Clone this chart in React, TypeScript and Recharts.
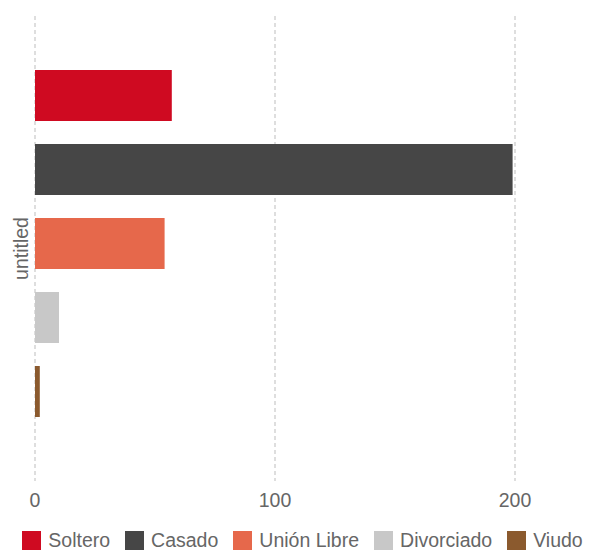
import React from 'react';
import { BarChart, Bar, XAxis, YAxis, CartesianGrid, Legend } from 'recharts';

const categories = ['untitled'];
const seriesNames = ['Soltero', 'Casado', 'Unión Libre', 'Divorciado', 'Viudo'];
const seriesValues = [57, 199, 54, 10, 2];
const seriesColors = ['#cf0a21', '#464646', '#e6684b', '#c8c8c8', '#8b5a2e'];
const xTicks = [0, 100, 200];

const data = categories.map((c) => {
  const row: Record<string, string | number> = { name: c };
  seriesNames.forEach((s, i) => {
    row[s] = seriesValues[i];
  });
  return row;
});

const FONT = '"Liberation Sans", Arial, sans-serif';

const LegendContent = () => (
  <div
    style={{
      display: 'flex',
      justifyContent: 'center',
      alignItems: 'center',
      height: 20,
      fontFamily: FONT,
      fontSize: 19.5,
      color: '#666',
      transform: 'translateX(11px)',
      whiteSpace: 'nowrap',
    }}
  >
    {seriesNames.map((s, i) => (
      <div key={s} style={{ display: 'flex', alignItems: 'center', marginRight: i < seriesNames.length - 1 ? 15 : 0 }}>
        <div style={{ width: 19, height: 19, background: seriesColors[i], marginRight: 7 }} />
        <span style={{ lineHeight: '20px' }}>{s}</span>
      </div>
    ))}
  </div>
);

const gridX = (props: any) => {
  const scale = props?.xAxis?.scale;
  if (typeof scale === 'function') {
    return xTicks.map((t) => scale(t));
  }
  const off = props.offset;
  return xTicks.map((t) => off.left + (t / 225) * off.width);
};

export default function App() {
  return (
    <BarChart
      width={576}
      height={544}
      data={data}
      layout="vertical"
      margin={{ top: 8, right: 9, bottom: 2, left: 0 }}
      barCategoryGap={54}
      barGap={23}
    >
      <CartesianGrid
        horizontal={false}
        vertical
        stroke="#bdbdbd"
        strokeDasharray="4 3"
        verticalCoordinatesGenerator={gridX}
      />
      <XAxis
        type="number"
        domain={[0, 225]}
        ticks={xTicks}
        axisLine={false}
        tickLine={false}
        tickSize={0}
        tickMargin={12}
        height={49}
        tick={{ fill: '#666', fontSize: 19.5, fontFamily: FONT }}
        allowDataOverflow
      />
      <YAxis
        type="category"
        dataKey="name"
        width={27}
        tick={false}
        axisLine={false}
        tickLine={false}
        padding={{ top: 0, bottom: 10 }}
        label={{ value: 'untitled', angle: -90, position: 'center', dx: 0, fill: '#666', fontSize: 19.5, fontFamily: FONT }}
      />
      <Legend verticalAlign="bottom" height={20} content={<LegendContent />} />
      {seriesNames.map((s, i) => (
        <Bar key={s} dataKey={s} fill={seriesColors[i]} isAnimationActive={false} />
      ))}
    </BarChart>
  );
}
